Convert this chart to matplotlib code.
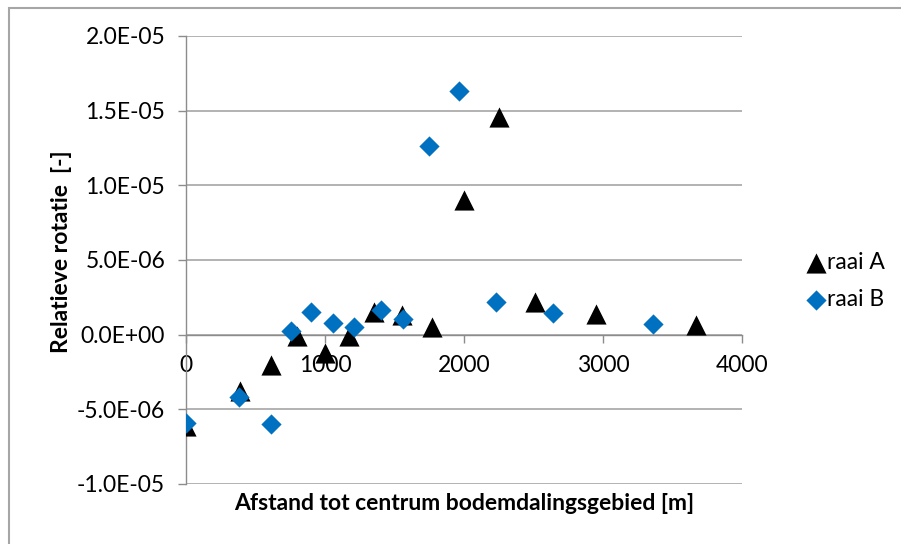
import matplotlib
matplotlib.use("Agg")
import matplotlib.pyplot as plt
from matplotlib.patches import Rectangle
from matplotlib.ticker import FuncFormatter

# raai A (driehoeken)
afstand_a = [0, 388, 612, 800, 1000, 1173, 1353, 1554, 1770, 2000, 2252, 2511, 2950, 3669]
rotatie_a = [-6.1e-6, -3.8e-6, -2.0e-6, -0.1e-6, -1.2e-6, -0.1e-6, 1.5e-6, 1.3e-6,
             0.5e-6, 9.0e-6, 14.6e-6, 2.2e-6, 1.4e-6, 0.67e-6]

# raai B (ruiten)
afstand_b = [0, 381, 612, 755, 899, 1058, 1209, 1403, 1561, 1748, 1966, 2228, 2643, 3360]
rotatie_b = [-5.9e-6, -4.2e-6, -6.0e-6, 0.27e-6, 1.54e-6, 0.8e-6, 0.54e-6, 1.67e-6,
             1.07e-6, 12.65e-6, 16.3e-6, 2.2e-6, 1.47e-6, 0.74e-6]

x_ticks = [0, 1000, 2000, 3000, 4000]
y_ticks = [-1e-5, -5e-6, 0, 5e-6, 1e-5, 1.5e-5, 2e-5]

plt.rcParams['font.family'] = ['Lato', 'DejaVu Sans']

fig = plt.figure(figsize=(9.01, 5.44), dpi=100)
ax = fig.add_axes([186 / 901, 60 / 544, 556 / 901, 448 / 544])

ax.scatter(afstand_a, rotatie_a, marker='^', s=14.5**2, color='black', label='raai A',
           zorder=3, linewidths=0)
ax.scatter(afstand_b, rotatie_b, marker='D', s=10.3**2, color='#0070C0', label='raai B',
           zorder=4, linewidths=0)

ax.set_xlim(0, 4000)
ax.set_ylim(-1e-5, 2e-5)
ax.set_xticks(x_ticks)
ax.set_yticks(y_ticks)
ax.yaxis.set_major_formatter(FuncFormatter(lambda v, p: '{:.1E}'.format(v) if abs(v) > 1e-12 else '0.0E+00'))
ax.xaxis.set_major_formatter(FuncFormatter(lambda v, p: '%d' % v))

ax.grid(axis='y', color='#a6a6a6', linewidth=1.2)
ax.set_axisbelow(True)
ax.spines['top'].set_visible(False)
ax.spines['right'].set_visible(False)
ax.spines['bottom'].set_position(('data', 0))
for s in ('left', 'bottom'):
    ax.spines[s].set_color('#8c8c8c')
    ax.spines[s].set_linewidth(1.0)

ax.tick_params(axis='both', colors='#8c8c8c', labelcolor='black', labelsize=16.5,
               length=6, width=1.0, direction='out')
ax.tick_params(axis='y', pad=9)
ax.tick_params(axis='x', pad=9)

fig.text(62 / 901, 1 - 252 / 544, 'Relatieve rotatie  [-]', rotation=90, fontsize=16.5,
         fontweight='bold', ha='center', va='center')
fig.text(464 / 901, 1 - 504 / 544, 'Afstand tot centrum bodemdalingsgebied [m]',
         fontsize=16.5, fontweight='bold', ha='center', va='center')

fig.legend(loc='center left', bbox_to_anchor=(795 / 901, 1 - 281 / 544),
           frameon=False, fontsize=16.5, handletextpad=0.0, handlelength=1.0,
           labelspacing=0.7, borderaxespad=0)

# rand van de grafiek
fig.patches.append(Rectangle((8.5 / 901, -0.1), 1.5, (544 - 8.5) / 544 + 0.1,
                             transform=fig.transFigure, fill=False,
                             edgecolor='#a6a6a6', linewidth=1.5, figure=fig))

fig.savefig('out.png', dpi=100)
